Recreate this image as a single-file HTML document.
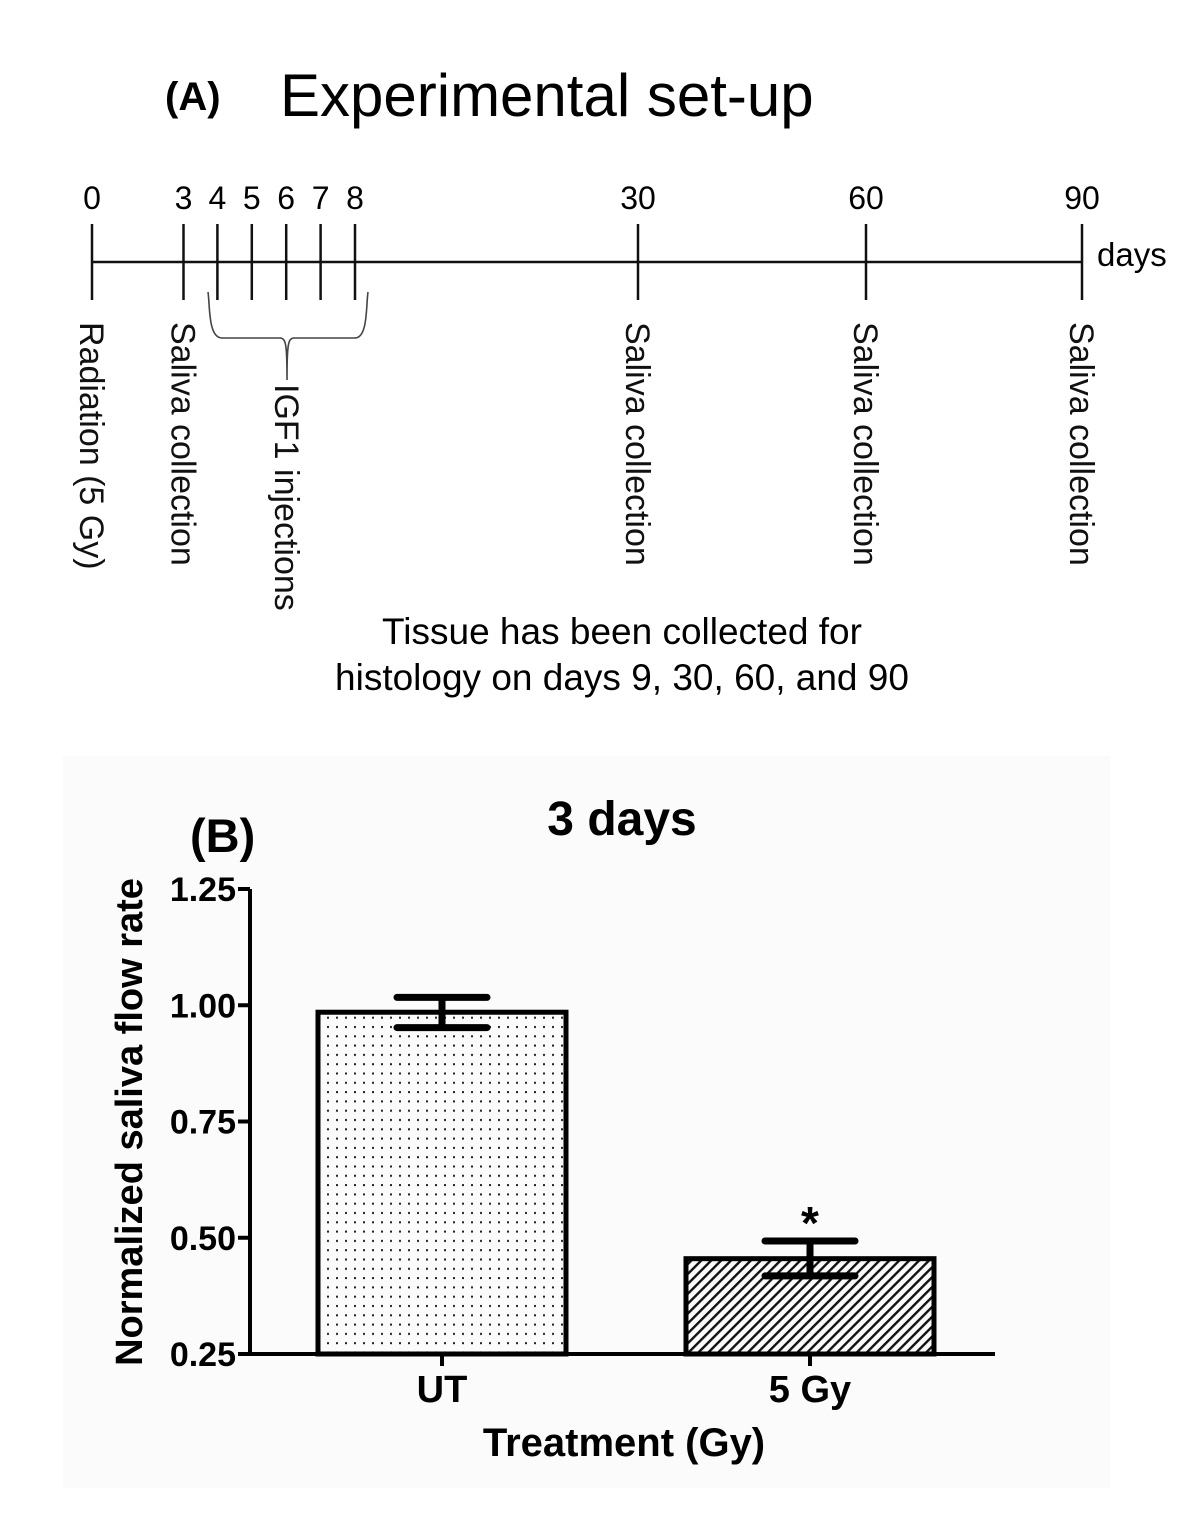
<!DOCTYPE html>
<html><head><meta charset="utf-8"><style>
html,body{margin:0;padding:0;background:#fff;}
svg{display:block;font-family:"Liberation Sans",Arial,sans-serif;}
</style></head><body>
<svg id="fig" width="1200" height="1514" viewBox="0 0 1200 1514" xmlns="http://www.w3.org/2000/svg">
<defs>
<pattern id="dots" width="9" height="9.3" patternUnits="userSpaceOnUse"><rect x="3" y="3" width="2" height="2" fill="#222"/></pattern>
<pattern id="hatch" width="7" height="7" patternUnits="userSpaceOnUse" patternTransform="rotate(45)"><rect x="0" y="0" width="2.4" height="7" fill="#111"/></pattern>
</defs>
<g>
<text x="165" y="110" font-size="40" font-weight="bold">(A)</text>
<text x="280" y="116" font-size="60">Experimental set-up</text>
<line x1="92" y1="262" x2="1082" y2="262" stroke="#111" stroke-width="2.5"/>
<text x="1097" y="266" font-size="33">days</text>
<g id="ticks"></g>
<path d="M208,292 C210,305 208,338 222,338 L280,338 C286,338 287,345 287,380 M287,380 C287,345 288,338 294,338 L355,338 C368,338 366,305 368,292" fill="none" stroke="#444" stroke-width="1.6"/>
<g id="vlabels" font-size="34" fill="#111"></g>
<text x="622" y="644" font-size="37" text-anchor="middle">Tissue has been collected for</text>
<text x="622" y="690" font-size="37" text-anchor="middle">histology on days 9, 30, 60, and 90</text>
</g>
<g>
<rect x="63" y="756" width="1047" height="732" fill="#fbfbfb"/>
<text x="190" y="852" font-size="47" font-weight="bold">(B)</text>
<text x="622" y="835" font-size="48" font-weight="bold" text-anchor="middle">3 days</text>
<g id="chart"></g>
<text transform="translate(142,1122) rotate(-90)" font-size="38" font-weight="bold" text-anchor="middle">Normalized saliva flow rate</text>
<text x="624" y="1456" font-size="40" font-weight="bold" text-anchor="middle">Treatment (Gy)</text>
</g>
</svg>
<script>
const NS="http://www.w3.org/2000/svg";
// timeline data
const dayValues=[0,3,4,5,6,7,8,30,60,90];
const dayLabels=["0","3","4","5","6","7","8","30","60","90"];
const eventDays=[0,3,30,60,90];
const eventLabels=["Radiation (5 Gy)","Saliva collection","Saliva collection","Saliva collection","Saliva collection"];
// chart data
const categories=["UT","5 Gy"];
const means=[0.985,0.455];
const errLow=[0.952,0.418];
const errHigh=[1.017,0.493];
const yTicks=[0.25,0.50,0.75,1.00,1.25];
const yTickLabels=["0.25","0.50","0.75","1.00","1.25"];
const significance=["","*"];
const fills=["url(#dots)","url(#hatch)"];

function dayX(d){
  if(d<=3) return 92+d*30.5;
  if(d<=8) return 183+(d-3)*34.4;
  if(d<=30) return 355+(d-8)*(638-355)/22;
  if(d<=60) return 638+(d-30)*(866-638)/30;
  return 866+(d-60)*(1082-866)/30;
}
function mk(tag,attrs,parent,text){const e=document.createElementNS(NS,tag);for(const k in attrs)e.setAttribute(k,attrs[k]);if(text!==undefined)e.textContent=text;parent.appendChild(e);return e;}

const tg=document.getElementById('ticks');
dayValues.forEach((d,i)=>{
  const x=dayX(d);
  const l=mk('line',{x1:x,y1:224,x2:x,y2:300,stroke:'#111','stroke-width':2.5},tg);
  
  
  const t=mk('text',{x:x,y:209,'font-size':32,'text-anchor':'middle'},tg,dayLabels[i]);
  
  
});
const vg=document.getElementById('vlabels');
eventDays.forEach((d,i)=>{
  const x=dayX(d)-12;
  const t=mk('text',{transform:`translate(${x},322) rotate(90)`},vg,eventLabels[i]);
  
  
});
const ig=mk('text',{transform:'translate(275,384) rotate(90)'},vg,'IGF1 injections');



// chart
const g=document.getElementById('chart');
const y0=1354,y1=889,vmin=0.25,vmax=1.25;
function yS(v){return y0-(v-vmin)/(vmax-vmin)*(y0-y1);}
const xLeft=250,xRight=995;
const catCenters=[442,810],barW=248;
const ax=mk('path',{d:`M${xLeft},${y1} V${y0} H${xRight}`,fill:'none',stroke:'#000','stroke-width':4},g);


yTicks.forEach((v,i)=>{
  const y=yS(v);
  const l=mk('line',{x1:xLeft-12,y1:y,x2:xLeft,y2:y,stroke:'#000','stroke-width':4},g);
  
  
  const t=mk('text',{x:xLeft-14,y:y+12,'font-size':34,'font-weight':'bold','text-anchor':'end'},g,yTickLabels[i]);
  
  
});
categories.forEach((c,i)=>{
  const cx=catCenters[i],top=yS(means[i]);
  const r=mk('rect',{x:cx-barW/2,y:top,width:barW,height:y0-top,fill:fills[i],stroke:'#000','stroke-width':5},g);
  
  
  const e=mk('path',{d:`M${cx},${yS(errLow[i])} V${yS(errHigh[i])} M${cx-45},${yS(errHigh[i])} H${cx+45} M${cx-45},${yS(errLow[i])} H${cx+45}`,stroke:'#000','stroke-width':7,'stroke-linecap':'round',fill:'none'},g);
  
  
  const tk=mk('line',{x1:cx,y1:y0,x2:cx,y2:y0+12,stroke:'#000','stroke-width':4},g);
  
  
  const t=mk('text',{x:cx,y:y0+48,'font-size':38,'font-weight':'bold','text-anchor':'middle'},g,c);
  
  
  if(significance[i]){
    const s=mk('text',{x:cx,y:yS(errHigh[i])-2,'font-size':46,'font-weight':'bold','text-anchor':'middle'},g,significance[i]);
    
    
  }
});
</script>
</body></html>
